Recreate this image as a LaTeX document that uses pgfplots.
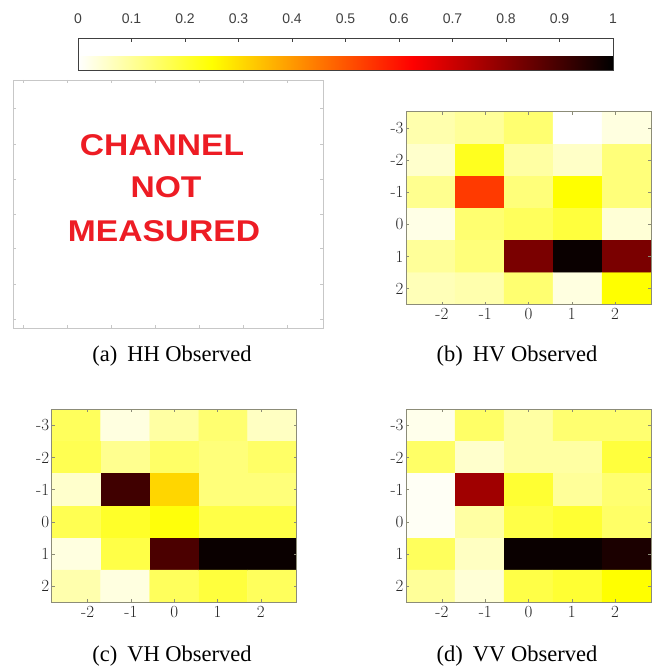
\documentclass[border=0pt]{standalone}
\usepackage{fontspec}
\newfontfamily\capfont{Liberation Serif}
\newfontfamily\cbfont{Liberation Sans}
\newfontfamily\stampfont[FakeStretch=1.12]{Liberation Sans}
\usepackage{pgfplots}
\pgfplotsset{compat=1.18}

\definecolor{axcol}{RGB}{140,140,120}
\definecolor{stampred}{RGB}{237,28,36}

% reversed "hot" map: white -> yellow -> red -> black
\pgfplotsset{
  colormap={hotr}{rgb(0pt)=(1,1,1) rgb(20pt)=(1,1,0) rgb(50pt)=(1,0,0) rgb(80pt)=(0,0,0)},
  heat/.style={
    scale only axis, width=245pt, height=193pt,
    xmin=-2.83, xmax=2.83, ymin=-3.5, ymax=2.5, y dir=reverse,
    xtick={-2,-1,0,1,2}, xticklabels={-2,-1,0,1,2},
    ytick={-3,-2,-1,0,1,2}, yticklabels={-3,-2,-1,0,1,2},
    tick align=inside, major tick length=3pt,
    axis line style={draw=axcol, line width=0.6pt},
    tick style={draw=axcol, line width=0.5pt},
    tick label style={font=\fontsize{17}{17}\selectfont, text=black!85},
    yticklabel style={xshift=1pt},
    colormap name=hotr, point meta min=0, point meta max=1,
    axis on top,
  },
}

\pgfplotstableread{
x y v
-2.264 -3 0.08
-1.132 -3 0.10
0      -3 0.14
1.132  -3 0.00
2.264  -3 0.03
-2.264 -2 0.05
-1.132 -2 0.22
0      -2 0.09
1.132  -2 0.055
2.264  -2 0.13
-2.264 -1 0.11
-1.132 -1 0.54
0      -1 0.13
1.132  -1 0.25
2.264  -1 0.13
-2.264 0 0.025
-1.132 0 0.14
0      0 0.16
1.132  0 0.19
2.264  0 0.04
-2.264 1 0.10
-1.132 1 0.13
0      1 0.82
1.132  1 0.985
2.264  1 0.82
-2.264 2 0.07
-1.132 2 0.08
0      2 0.14
1.132  2 0.03
2.264  2 0.25
}\hvdata

\pgfplotstableread{
x y v
-2.264 -3 0.16
-1.132 -3 0.03
0      -3 0.09
1.132  -3 0.14
2.264  -3 0.06
-2.264 -2 0.17
-1.132 -2 0.11
0      -2 0.15
1.132  -2 0.13
2.264  -2 0.15
-2.264 -1 0.05
-1.132 -1 0.906
0      -1 0.31
1.132  -1 0.13
2.264  -1 0.13
-2.264 0 0.17
-1.132 0 0.21
0      0 0.24
1.132  0 0.18
2.264  0 0.18
-2.264 1 0.03
-1.132 1 0.18
0      1 0.89
1.132  1 0.985
2.264  1 0.985
-2.264 2 0.08
-1.132 2 0.03
0      2 0.16
1.132  2 0.19
2.264  2 0.16
}\vhdata

\pgfplotstableread{
x y v
-2.264 -3 0.02
-1.132 -3 0.15
0      -3 0.09
1.132  -3 0.14
2.264  -3 0.14
-2.264 -2 0.15
-1.132 -2 0.05
0      -2 0.09
1.132  -2 0.09
2.264  -2 0.19
-2.264 -1 0.01
-1.132 -1 0.764
0      -1 0.20
1.132  -1 0.10
2.264  -1 0.14
-2.264 0 0.01
-1.132 0 0.09
0      0 0.18
1.132  0 0.20
2.264  0 0.15
-2.264 1 0.16
-1.132 1 0.06
0      1 0.985
1.132  1 0.985
2.264  1 0.96
-2.264 2 0.10
-1.132 2 0.04
0      2 0.18
1.132  2 0.20
2.264  2 0.25
}\vvdata

\begin{document}
\begin{tikzpicture}
\path[use as bounding box] (0pt,0pt) rectangle (665pt,668pt);

% shared colour scale
\begin{axis}[
  at={(78pt,606pt)}, anchor=south west,
  scale only axis, width=535pt, height=32pt,
  hide axis, xmin=0, xmax=1, ymin=0, ymax=1,
  colormap name=hotr, point meta min=0, point meta max=1,
  colorbar horizontal,
  colorbar style={
    scale only axis, width=535pt, height=32pt,
    at={(parent axis.south west)}, anchor=south west,
    xtick={0,0.1,0.2,0.3,0.4,0.5,0.6,0.7,0.8,0.9,1},
    xticklabels={0,0.1,0.2,0.3,0.4,0.5,0.6,0.7,0.8,0.9,1},
    xtick pos=right, xticklabel pos=right,
    tick align=inside, major tick length=3pt,
    axis line style={draw=black!75, line width=0.6pt},
    tick style={draw=black!75, line width=0.6pt},
    tick label style={font=\cbfont\fontsize{14}{14}\selectfont, text=black!75},
    xticklabel style={yshift=11pt},
  },
]
\addplot[draw=none] coordinates {(0,0)};
\end{axis}

% (a) empty channel
\begin{axis}[
  at={(13.3pt,588pt)}, anchor=north west,
  scale only axis, width=310pt, height=248.3pt,
  xmin=13.3, xmax=323.3, ymin=80, ymax=328.3, y dir=reverse,
  xtick={23.3,67.7,111,155,199,243.3,287.3},
  ytick={108.3,144,179.3,214.3,248.7,284.3,319.3},
  xticklabels={}, yticklabels={},
  tick align=inside, major tick length=3pt,
  axis line style={draw=black!22, line width=0.6pt},
  tick style={draw=black!22, line width=0.5pt},
]
\end{axis}

% (b) HV
\begin{axis}[heat, at={(406pt,556.3pt)}, anchor=north west]
\addplot[matrix plot*, mesh/cols=5, point meta=explicit] table[x=x, y=y, meta=v] {\hvdata};
\end{axis}

% (c) VH
\begin{axis}[heat, at={(51.7pt,258.7pt)}, anchor=north west]
\addplot[matrix plot*, mesh/cols=5, point meta=explicit] table[x=x, y=y, meta=v] {\vhdata};
\end{axis}

% (d) VV
\begin{axis}[heat, at={(406pt,258.7pt)}, anchor=north west]
\addplot[matrix plot*, mesh/cols=5, point meta=explicit] table[x=x, y=y, meta=v] {\vvdata};
\end{axis}

% stamp on the empty panel
\begin{scope}[every node/.style={anchor=base, text=stampred, inner sep=0pt,
    font=\stampfont\bfseries\fontsize{30}{30}\selectfont}]
\node at (162pt,512pt) {CHANNEL};
\node at (166pt,470pt) {NOT};
\node at (164pt,426pt) {MEASURED};
\end{scope}

% sub-captions
\begin{scope}[every node/.style={anchor=base, inner sep=0pt,
    font=\capfont\fontsize{22.5}{22.5}\selectfont}]
\node at (172pt,306pt) {(a)\hspace{0.45em}HH Observed};
\node at (517pt,306pt) {(b)\hspace{0.45em}HV Observed};
\node at (172pt,6pt) {(c)\hspace{0.45em}VH Observed};
\node at (517pt,6pt) {(d)\hspace{0.45em}VV Observed};
\end{scope}
\end{tikzpicture}
\end{document}
